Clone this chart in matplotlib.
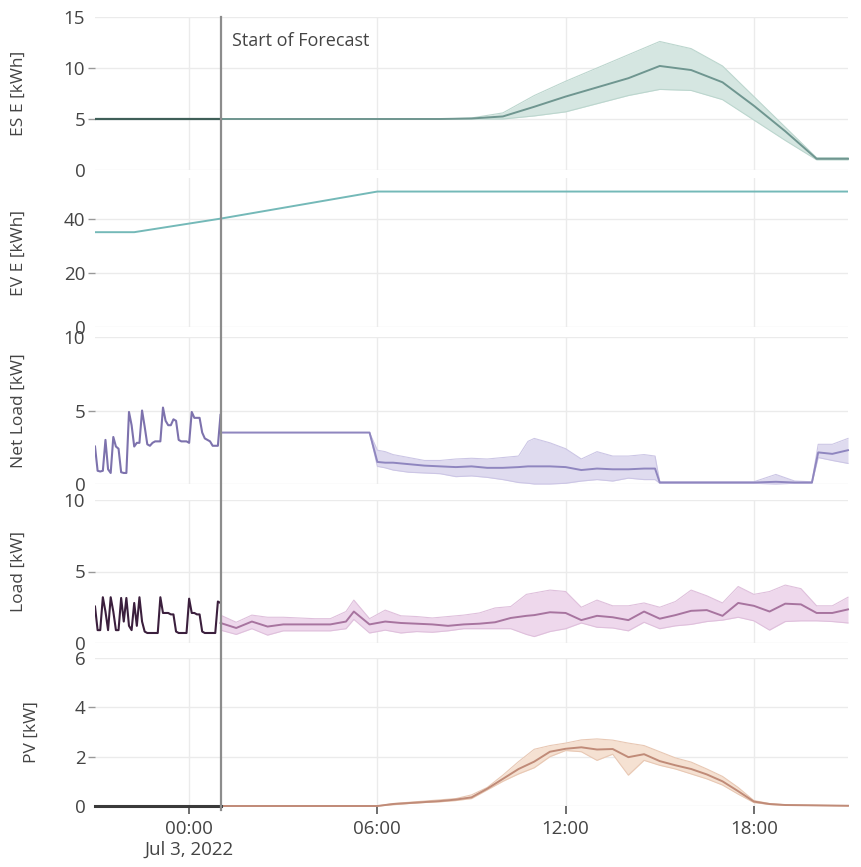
import pandas as pd
import matplotlib
matplotlib.use('Agg')
import matplotlib.pyplot as plt
import matplotlib.dates as mdates
from matplotlib.lines import Line2D
from matplotlib.transforms import blended_transform_factory

plt.rcParams['font.family'] = ['Open Sans', 'DejaVu Sans']

# ---------------- data ----------------
day = pd.Timestamp('2022-07-03 00:00')
x_start = day - pd.Timedelta(hours=3)
x_end = day + pd.Timedelta(hours=21)
forecast_start = day + pd.Timedelta(hours=1)

tick_hours = [0, 6, 12, 18]
tick_labels = ['00:00\nJul 3, 2022', '06:00', '12:00', '18:00']

# measured history, 5 min samples from 21:00 to 01:00
netload_hist = [2.55, 0.9, 0.85, 0.9, 3.0, 1.0, 0.75, 3.2, 2.55, 2.4, 0.8, 0.75, 0.75,
                4.9, 4.0, 2.55, 2.8, 2.8, 5.0, 3.9, 2.7, 2.6, 2.8, 2.9, 2.9, 2.9,
                5.2, 4.3, 4.0, 4.0, 4.4, 4.3, 3.0, 2.9, 2.9, 2.9, 2.8, 4.9, 4.5,
                4.5, 4.5, 3.5, 3.1, 3.0, 2.9, 2.6, 2.6, 2.6, 4.7]
load_hist = [2.55, 0.9, 0.9, 3.2, 2.2, 0.9, 3.2, 2.2, 0.9, 0.9, 3.15, 1.5, 3.15,
             1.2, 0.9, 2.8, 1.2, 3.2, 1.5, 0.8, 0.7, 0.7, 0.7, 0.7, 0.7, 3.2,
             2.1, 2.1, 2.1, 2.0, 2.0, 0.8, 0.7, 0.7, 0.7, 0.7, 3.1, 2.1, 2.1,
             2.0, 2.0, 0.8, 0.7, 0.7, 0.7, 0.7, 0.7, 2.9, 2.8]

# storage energy
es_hist_h = [-3, 1]
es_hist = [5.0, 5.0]
es_h = [1, 2, 3, 4, 5, 6, 7, 8, 9, 10, 11, 12, 13, 14, 15, 16, 17, 18, 19, 20, 21]
es_mean = [5.0, 5.0, 5.0, 5.0, 5.0, 5.0, 5.0, 5.0, 5.05, 5.25, 6.2, 7.2, 8.1, 9.0,
           10.2, 9.8, 8.6, 6.3, 3.8, 1.1, 1.1]
es_hi = [5.0, 5.0, 5.0, 5.0, 5.0, 5.0, 5.0, 5.0, 5.1, 5.6, 7.3, 8.7, 10.0, 11.3,
         12.6, 11.9, 10.2, 7.2, 4.2, 1.2, 1.2]
es_lo = [5.0, 5.0, 5.0, 5.0, 5.0, 5.0, 5.0, 5.0, 5.0, 5.0, 5.3, 5.7, 6.5, 7.3,
         7.9, 7.8, 6.9, 4.9, 2.9, 1.0, 1.0]

# EV energy
ev_h = [-3, -1.75, 1, 6, 21]
ev_val = [35, 35, 40, 50, 50]

# net load forecast
nl_h = [1.0, 5.75, 6.0, 6.25, 6.5, 7.0, 7.5, 8.0, 8.5, 9.0, 9.5, 10.0, 10.5, 10.8,
        11.0, 11.5, 12.0, 12.5, 13.0, 13.5, 14.0, 14.5, 14.85, 15.0, 18.0, 18.7,
        19.3, 19.85, 20.05, 20.5, 21.0]
nl_mean = [3.5, 3.5, 1.5, 1.45, 1.45, 1.35, 1.25, 1.2, 1.15, 1.2, 1.1, 1.1, 1.15, 1.2,
           1.2, 1.2, 1.15, 0.95, 1.05, 1.0, 1.0, 1.05, 1.05, 0.1, 0.1, 0.15,
           0.1, 0.1, 2.15, 2.05, 2.3]
nl_lo = [3.5, 3.5, 1.2, 1.1, 0.95, 0.8, 0.75, 0.7, 0.5, 0.55, 0.45, 0.3, 0.1, 0.05,
         0.0, 0.0, 0.05, 0.2, 0.3, 0.2, 0.4, 0.3, 0.3, 0.05, 0.05, 0.0,
         0.05, 0.05, 1.8, 1.6, 1.4]
nl_hi = [3.5, 3.5, 2.3, 2.2, 2.0, 1.8, 1.6, 1.6, 1.7, 1.75, 1.7, 1.8, 1.9, 2.9,
         3.1, 2.8, 2.4, 1.7, 2.2, 1.9, 1.9, 2.0, 1.9, 0.15, 0.15, 0.65,
         0.2, 0.15, 2.7, 2.7, 3.1]

# load forecast
ld_h = [1.0, 1.5, 2.0, 2.5, 3.0, 3.5, 4.0, 4.5, 5.0, 5.25, 5.75, 6.25, 6.75, 7.25,
        7.75, 8.25, 8.75, 9.25, 9.75, 10.25, 10.75, 11.0, 11.5, 12.0, 12.5, 13.0,
        13.5, 14.0, 14.5, 15.0, 15.5, 16.0, 16.5, 17.0, 17.5, 18.0, 18.5, 19.0,
        19.5, 20.0, 20.5, 21.0]
ld_mean = [1.4, 1.05, 1.5, 1.15, 1.3, 1.3, 1.3, 1.3, 1.5, 2.2, 1.3, 1.5, 1.4, 1.35,
           1.3, 1.2, 1.3, 1.35, 1.45, 1.75, 1.9, 1.95, 2.15, 2.1, 1.6, 1.9,
           1.8, 1.6, 2.2, 1.7, 1.95, 2.25, 2.3, 1.9, 2.8, 2.6, 2.2, 2.75,
           2.7, 2.1, 2.1, 2.35]
ld_lo = [0.9, 0.6, 1.0, 0.55, 0.85, 0.85, 0.85, 0.85, 1.0, 1.65, 0.7, 0.9, 0.7, 0.8,
         0.75, 0.85, 1.0, 1.0, 1.0, 1.0, 0.6, 0.45, 0.8, 1.0, 1.4, 1.1,
         1.05, 0.85, 1.45, 1.0, 1.2, 1.3, 1.5, 1.6, 1.8, 1.55, 0.9, 1.5,
         1.55, 1.55, 1.5, 1.4]
ld_hi = [1.95, 1.45, 1.95, 1.8, 1.8, 1.75, 1.7, 1.7, 2.2, 3.0, 1.7, 2.3, 1.9, 1.85,
         1.75, 1.85, 1.95, 2.1, 2.45, 2.55, 3.4, 3.5, 3.7, 3.6, 2.5, 3.0,
         2.6, 2.6, 2.8, 2.5, 2.9, 3.7, 3.3, 2.8, 3.95, 3.4, 3.6, 4.05,
         3.8, 2.6, 2.6, 3.2]

# PV forecast
pv_hist_h = [-3, 1]
pv_hist = [0.0, 0.0]
pv_h = [1.0, 6.0, 6.5, 7.0, 7.5, 8.0, 8.5, 9.0, 9.5, 10.0, 10.5, 11.0, 11.5, 12.0,
        12.5, 13.0, 13.5, 14.0, 14.5, 15.0, 15.5, 16.0, 16.5, 17.0, 17.5, 18.0,
        18.5, 19.0, 21.0]
pv_mean = [0.0, 0.0, 0.08, 0.12, 0.16, 0.2, 0.26, 0.35, 0.7, 1.1, 1.5, 1.8, 2.2, 2.32,
           2.38, 2.29, 2.31, 1.98, 2.1, 1.82, 1.65, 1.5, 1.28, 1.0, 0.6, 0.18,
           0.08, 0.04, 0.01]
pv_lo = [0.0, 0.0, 0.05, 0.1, 0.14, 0.17, 0.22, 0.3, 0.65, 1.0, 1.3, 1.55, 2.0, 2.25,
         2.2, 1.85, 2.1, 1.25, 1.85, 1.65, 1.5, 1.3, 1.1, 0.85, 0.48, 0.14,
         0.06, 0.03, 0.01]
pv_hi = [0.0, 0.0, 0.1, 0.15, 0.2, 0.25, 0.3, 0.45, 0.75, 1.25, 1.8, 2.3, 2.45, 2.55,
         2.68, 2.72, 2.67, 2.55, 2.45, 2.2, 1.95, 1.78, 1.5, 1.2, 0.75, 0.22,
         0.1, 0.05, 0.01]


def at(hours):
    return [day + pd.Timedelta(hours=h) for h in hours]


hist_time = pd.date_range(x_start, forecast_start, freq='5min')

# ---------------- figure ----------------
W, H = 861, 867
fig = plt.figure(figsize=(W / 100, H / 100), dpi=100)
left, right = 95, 848
panels = [(17, 170), (178, 327), (337, 484), (500, 643), (658, 806)]
axes = []
for top, bot in panels:
    axes.append(fig.add_axes([left / W, 1 - bot / H, (right - left) / W, (bot - top) / H]))

grid_c = '#ebebeb'
text_c = '#444444'
tick_fs = 13.5
label_fs = 12.5


def band(ax, h, mean, lo, hi, line_c, fill_c, edge_c):
    t = at(h)
    ax.fill_between(t, lo, hi, color=fill_c, lw=0, zorder=2)
    ax.plot(t, lo, color=edge_c, lw=0.8, zorder=3, clip_on=False)
    ax.plot(t, hi, color=edge_c, lw=0.8, zorder=3, clip_on=False)
    ax.plot(t, mean, color=line_c, lw=1.4, zorder=4, clip_on=False)


ax1, ax2, ax3, ax4, ax5 = axes

band(ax1, es_h, es_mean, es_lo, es_hi, '#6f9690', '#d5e6e1', '#bcd6ce')
ax1.plot(at(es_hist_h), es_hist, color='#3f5f58', lw=1.6, zorder=5)
ax1.set_ylim(0, 15)
ax1.set_yticks([0, 5, 10, 15])
ax1.set_ylabel('ES E [kWh]')

ax2.plot(at(ev_h), ev_val, color='#74b9b8', lw=1.4, zorder=4)
ax2.set_ylim(0, 55)
ax2.set_yticks([0, 20, 40])
ax2.set_ylabel('EV E [kWh]')

band(ax3, nl_h, nl_mean, nl_lo, nl_hi, '#8f86bf', '#dfdbef', '#ccc6e5')
ax3.plot(hist_time, netload_hist, color='#7d72ad', lw=1.5, zorder=5)
ax3.set_ylim(0, 10)
ax3.set_yticks([0, 5, 10])
ax3.set_ylabel('Net Load [kW]')

band(ax4, ld_h, ld_mean, ld_lo, ld_hi, '#a7749f', '#eed8ec', '#dfc0dc')
ax4.plot(hist_time, load_hist, color='#3b1f3d', lw=1.5, zorder=5)
ax4.set_ylim(0, 10)
ax4.set_yticks([0, 5, 10])
ax4.set_ylabel('Load [kW]')

band(ax5, pv_h, pv_mean, pv_lo, pv_hi, '#c08b78', '#f5e1d2', '#e8c8b4')
ax5.plot(at(pv_hist_h), pv_hist, color='#3a3a3a', lw=2.2, zorder=5, clip_on=False)
ax5.set_ylim(0, 6)
ax5.set_yticks([0, 2, 4, 6])
ax5.set_ylabel('PV [kW]')

label_x = [-0.09, -0.09, -0.09, -0.09, -0.073]
for ax, lx in zip(axes, label_x):
    ax.set_xlim(x_start, x_end)
    ax.set_xticks(at(tick_hours))
    ax.grid(True, color=grid_c, lw=1, zorder=0)
    for s in ax.spines.values():
        s.set_visible(False)
    ax.tick_params(axis='y', length=5, width=1, color='#999999', labelsize=tick_fs,
                   labelcolor=text_c, pad=2)
    yt = ax.yaxis.get_major_ticks()
    yt[0].tick1line.set_visible(False)
    if ax.get_yticks()[-1] >= ax.get_ylim()[1]:
        yt[-1].tick1line.set_visible(False)
    ax.yaxis.label.set_fontsize(label_fs)
    ax.yaxis.label.set_color(text_c)
    ax.yaxis.set_label_coords(lx, 0.5)
    if ax is not ax5:
        ax.tick_params(axis='x', length=0, labelbottom=False)
    ax.set_facecolor('none')

ax5.set_xticklabels(tick_labels)
ax5.tick_params(axis='x', length=6, width=1.2, color='#555555', labelsize=tick_fs,
                labelcolor=text_c, pad=4)

# forecast start marker across all panels
fx = mdates.date2num(forecast_start)
tr = blended_transform_factory(ax5.transData, fig.transFigure)
fig.add_artist(Line2D([fx, fx], [1 - 17 / H, 1 - 810 / H],
                      transform=tr, color='#8c8c8c', lw=1.6, zorder=10))
ax1.annotate('Start of Forecast', xy=(forecast_start, 12.6), xytext=(8, 0),
             textcoords='offset points', va='center', ha='left',
             fontsize=13, color=text_c)

fig.savefig('out.png', dpi=100)
